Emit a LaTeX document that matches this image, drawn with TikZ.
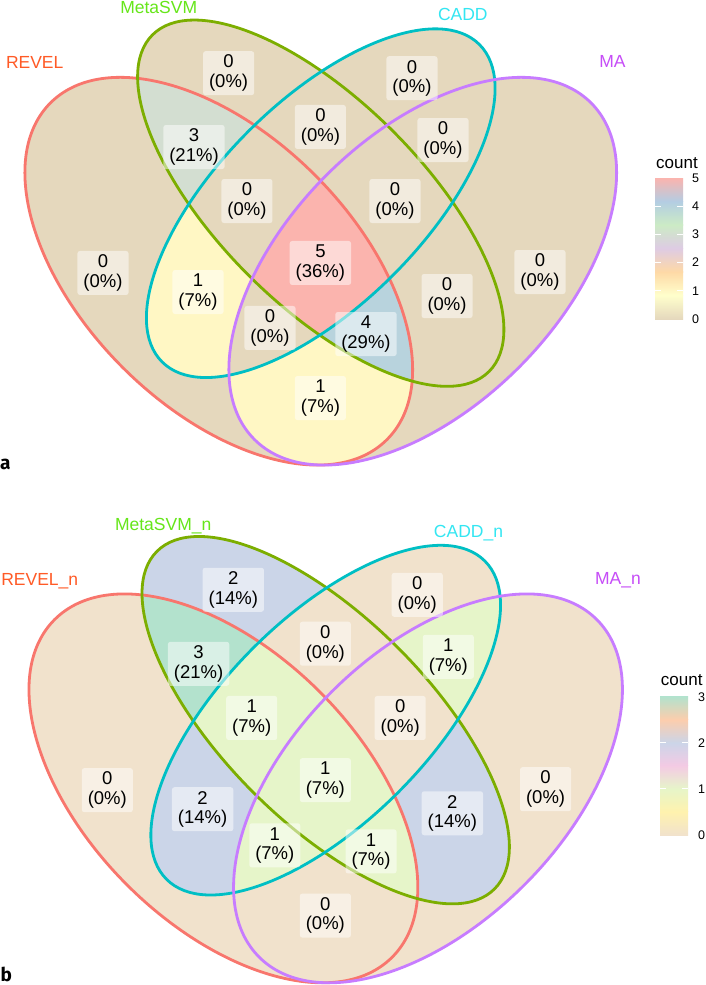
\documentclass[tikz,border=0pt]{standalone}
\usepackage{fontspec}
\setmainfont{Liberation Sans}
\newfontfamily\panelfont{Fira Sans}
\usepackage{graphicx}
% edge colours
\definecolor{lnR}{HTML}{F8766D}
\definecolor{lnM}{HTML}{7CAE00}
\definecolor{lnC}{HTML}{00BFC4}
\definecolor{lnA}{HTML}{C77CFF}
% set label colours
\definecolor{txR}{HTML}{FF5A26}
\definecolor{txM}{HTML}{66E61A}
\definecolor{txC}{HTML}{33E6F2}
\definecolor{txA}{HTML}{C64DF7}
% panel a fills (Pastel1 reversed)
\definecolor{aZero}{RGB}{229,216,189}
\definecolor{aOne}{RGB}{255,247,196}
\definecolor{aThree}{RGB}{211,222,209}
\definecolor{aFour}{RGB}{184,211,221}
\definecolor{aFive}{RGB}{251,180,174}
\definecolor{pa1}{HTML}{E5D8BD}
\definecolor{pa2}{HTML}{FFFFCC}
\definecolor{pa3}{HTML}{FED9A6}
\definecolor{pa4}{HTML}{DECBE4}
\definecolor{pa5}{HTML}{CCEBC5}
\definecolor{pa6}{HTML}{B3CDE3}
\definecolor{pa7}{HTML}{FBB4AE}
% panel b fills (Pastel2 reversed)
\definecolor{bZero}{HTML}{F1E2CC}
\definecolor{bOne}{HTML}{E6F5C9}
\definecolor{bTwo}{HTML}{CBD5E8}
\definecolor{bThree}{HTML}{B3E2CD}
\definecolor{pb1}{HTML}{F1E2CC}
\definecolor{pb2}{HTML}{FFF2AE}
\definecolor{pb3}{HTML}{E6F5C9}
\definecolor{pb4}{HTML}{F4CAE4}
\definecolor{pb5}{HTML}{CBD5E8}
\definecolor{pb6}{HTML}{FDCDAC}
\definecolor{pb7}{HTML}{B3E2CD}
% ellipse paths (venn units)
\newcommand\ellR{(0.35,0.47) ellipse [x radius=0.35, y radius=0.20, rotate=135]}
\newcommand\ellM{(0.50,0.57) ellipse [x radius=0.35, y radius=0.15, rotate=135]}
\newcommand\ellC{(0.50,0.57) ellipse [x radius=0.33, y radius=0.15, rotate=45]}
\newcommand\ellA{(0.65,0.47) ellipse [x radius=0.35, y radius=0.20, rotate=45]}
\newcommand\inR{\clip\ellR;}
\newcommand\inM{\clip\ellM;}
\newcommand\inC{\clip\ellC;}
\newcommand\inA{\clip\ellA;}
\newcommand\paintreg[2]{\begin{scope}#1\fill[#2] (0,0) rectangle (1,1);\end{scope}}
\newcommand\rlab[4]{\node[rlabel] (#1) at (#2) {#3\\(#4\%)};}
\tikzset{
  rlabel/.style={fill=white, fill opacity=0.5, text opacity=1, rounded corners=2.5pt,
    align=center, inner xsep=6pt, inner ysep=0pt, minimum height=44pt, text=black,
    font=\fontsize{18.5}{19.5}\selectfont},
  setlab/.style={font=\fontsize{17.5}{20}\selectfont, anchor=base, inner sep=0pt},
  edge/.style={line width=2.8pt},
  legtitle/.style={font=\fontsize{17}{20}\selectfont, anchor=base west, inner sep=0pt},
  legtick/.style={font=\fontsize{12.5}{15}\selectfont, anchor=west, inner sep=0pt},
  tickmark/.style={white, line width=0.9pt},
  panellab/.style={font=\panelfont\bfseries\fontsize{19}{20}\selectfont, anchor=base west, inner sep=0pt}
}
\begin{document}
\begin{tikzpicture}[x=1pt, y=-1pt]
\path[fill=white] (0,0) rectangle (705,985);
\useasboundingbox (0,0) rectangle (705,985);

% ================= panel a =================
\begin{scope}[shift={(-19.25,590.8)}, x=680pt, y=680pt]
  \fill[aZero] \ellR; \fill[aZero] \ellM; \fill[aZero] \ellC; \fill[aZero] \ellA;
  \paintreg{\inR\inM}{aThree}
  \paintreg{\inR\inC}{aOne}
  \paintreg{\inR\inA}{aOne}
  \paintreg{\inM\inC}{aZero}
  \paintreg{\inM\inA}{aZero}
  \paintreg{\inC\inA}{aZero}
  \paintreg{\inR\inM\inC}{aZero}
  \paintreg{\inR\inM\inA}{aFour}
  \paintreg{\inR\inC\inA}{aZero}
  \paintreg{\inM\inC\inA}{aZero}
  \paintreg{\inR\inM\inC\inA}{aFive}
  \draw[edge, lnR] \ellR;
  \draw[edge, lnM] \ellM;
  \draw[edge, lnC] \ellC;
  \draw[edge, lnA] \ellA;
  \rlab{a1}{0.3645,0.7612}{0}{0}
  \rlab{a2}{0.6342,0.7538}{0}{0}
  \rlab{a3}{0.3136,0.6526}{3}{21}
  \rlab{a4}{0.4995,0.6821}{0}{0}
  \rlab{a5}{0.6798,0.6629}{0}{0}
  \rlab{a6}{0.3915,0.5732}{0}{0}
  \rlab{a7}{0.6092,0.5732}{0}{0}
  \rlab{a8}{0.1798,0.4674}{0}{0}
  \rlab{a9}{0.3195,0.4394}{1}{7}
  \rlab{a10}{0.4995,0.4821}{5}{36}
  \rlab{a11}{0.6857,0.4335}{0}{0}
  \rlab{a12}{0.8224,0.4688}{0}{0}
  \rlab{a13}{0.4254,0.3865}{0}{0}
  \rlab{a14}{0.5665,0.3776}{4}{29}
  \rlab{a15}{0.4995,0.2835}{1}{7}
\end{scope}
\node[setlab, text=txR] (sRa) at (34.7,68.3) {REVEL};
\node[setlab, text=txM] (sMa) at (158.7,13.3) {MetaSVM};
\node[setlab, text=txC] (sCa) at (462.8,20) {CADD};
\node[setlab, text=txA] (sAa) at (612.5,67.3) {MA};
\node[panellab] (pa) at (0,469.3) {a};
% legend a
\node[legtitle] (lta) at (656,168) {count};
\shade[bottom color=pa1, top color=pa2] (655,319) rectangle (683,295.2);
\shade[bottom color=pa2, top color=pa3] (655,295.5) rectangle (683,271.7);
\shade[bottom color=pa3, top color=pa4] (655,272) rectangle (683,248.2);
\shade[bottom color=pa4, top color=pa5] (655,248.5) rectangle (683,224.7);
\shade[bottom color=pa5, top color=pa6] (655,225) rectangle (683,201.2);
\shade[bottom color=pa6, top color=pa7] (655,201.5) rectangle (683,178);
\foreach \yy in {290.8,262.6,234.4,206.2}{
  \draw[tickmark] (655,\yy) -- (660.6,\yy);
  \draw[tickmark] (683,\yy) -- (677.4,\yy);
}
\node[legtick] (ta0) at (692,319) {0};
\node[legtick] (ta1) at (692,290.8) {1};
\node[legtick] (ta2) at (692,262.6) {2};
\node[legtick] (ta3) at (692,234.4) {3};
\node[legtick] (ta4) at (692,206.2) {4};
\node[legtick] (ta5) at (692,178.5) {5};

% ================= panel b =================
\begin{scope}[shift={(-15.3,1108.9)}, x=682pt, y=682pt]
  \fill[bZero] \ellR; \fill[bTwo] \ellM; \fill[bZero] \ellC; \fill[bZero] \ellA;
  \paintreg{\inR\inM}{bThree}
  \paintreg{\inR\inC}{bTwo}
  \paintreg{\inR\inA}{bZero}
  \paintreg{\inM\inC}{bZero}
  \paintreg{\inM\inA}{bTwo}
  \paintreg{\inC\inA}{bOne}
  \paintreg{\inR\inM\inC}{bOne}
  \paintreg{\inR\inM\inA}{bOne}
  \paintreg{\inR\inC\inA}{bOne}
  \paintreg{\inM\inC\inA}{bZero}
  \paintreg{\inR\inM\inC\inA}{bOne}
  \draw[edge, lnR] \ellR;
  \draw[edge, lnM] \ellM;
  \draw[edge, lnC] \ellC;
  \draw[edge, lnA] \ellA;
  \rlab{b1}{0.3645,0.7612}{2}{14}
  \rlab{b2}{0.6342,0.7538}{0}{0}
  \rlab{b3}{0.3136,0.6526}{3}{21}
  \rlab{b4}{0.4995,0.6821}{0}{0}
  \rlab{b5}{0.6798,0.6629}{1}{7}
  \rlab{b6}{0.3915,0.5732}{1}{7}
  \rlab{b7}{0.6092,0.5732}{0}{0}
  \rlab{b8}{0.1798,0.4674}{0}{0}
  \rlab{b9}{0.3195,0.4394}{2}{14}
  \rlab{b10}{0.4995,0.4821}{1}{7}
  \rlab{b11}{0.6857,0.4335}{2}{14}
  \rlab{b12}{0.8224,0.4688}{0}{0}
  \rlab{b13}{0.4254,0.3865}{1}{7}
  \rlab{b14}{0.5665,0.3776}{1}{7}
  \rlab{b15}{0.4995,0.2835}{0}{0}
\end{scope}
\node[setlab, text=txR] (sRb) at (39.7,585.3) {REVEL\_n};
\node[setlab, text=txM] (sMb) at (163.2,530.3) {MetaSVM\_n};
\node[setlab, text=txC] (sCb) at (468.5,537) {CADD\_n};
\node[setlab, text=txA] (sAb) at (618,584.3) {MA\_n};
\node[panellab] (pb) at (0.5,981.5) {b};
% legend b
\node[legtitle] (ltb) at (660.7,685) {count};
\shade[bottom color=pb1, top color=pb2] (660,835) rectangle (688,811.6);
\shade[bottom color=pb2, top color=pb3] (660,811.95) rectangle (688,788.55);
\shade[bottom color=pb3, top color=pb4] (660,788.9) rectangle (688,765.5);
\shade[bottom color=pb4, top color=pb5] (660,765.85) rectangle (688,742.45);
\shade[bottom color=pb5, top color=pb6] (660,742.8) rectangle (688,719.4);
\shade[bottom color=pb6, top color=pb7] (660,719.75) rectangle (688,696.7);
\foreach \yy in {788.9,742.8}{
  \draw[tickmark] (660,\yy) -- (665.6,\yy);
  \draw[tickmark] (688,\yy) -- (682.4,\yy);
}
\node[legtick] (tb0) at (698,835) {0};
\node[legtick] (tb1) at (698,788.9) {1};
\node[legtick] (tb2) at (698,742.8) {2};
\node[legtick] (tb3) at (698,697.2) {3};
\end{tikzpicture}
\end{document}
